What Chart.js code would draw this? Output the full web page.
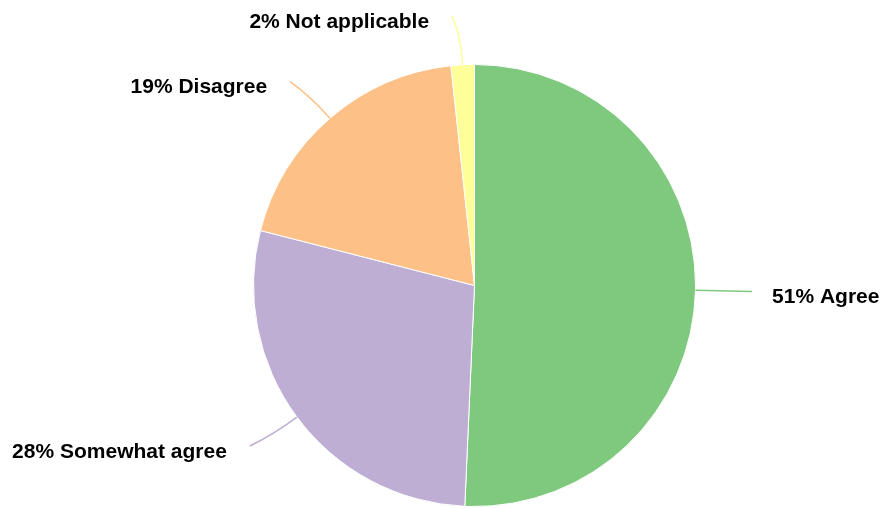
<!DOCTYPE html>
<html>
<head>
<meta charset="utf-8">
<script src="https://cdn.jsdelivr.net/npm/chart.js@4/dist/chart.umd.min.js"></script>
<style>
  html, body { margin: 0; padding: 0; background: #fff; }
  #wrap { width: 884px; height: 508px; }
</style>
</head>
<body>
<div id="wrap"><canvas id="pie"></canvas></div>
<script>
var labels = ["Agree", "Somewhat agree", "Disagree", "Not applicable"];
var values = [50.7, 28.3, 19.3, 1.7];
var colors = ["#7fc97f", "#beaed4", "#fdc086", "#ffff99"];

// leader lines + outside labels
var outLabels = {
  id: "outLabels",
  afterDatasetsDraw: function (chart) {
    var ctx = chart.ctx;
    var meta = chart.getDatasetMeta(0);
    var total = values.reduce(function (a, b) { return a + b; }, 0);
    ctx.save();
    ctx.font = "bold 21px 'Liberation Sans', Arial, sans-serif";
    ctx.textBaseline = "middle";
    meta.data.forEach(function (arc, i) {
      var p = arc.getProps(["x", "y", "startAngle", "endAngle", "outerRadius"], true);
      var mid = (p.startAngle + p.endAngle) / 2;
      var cx = Math.cos(mid), cy = Math.sin(mid);
      var r = p.outerRadius;
      var right = cx >= 0;
      var side = right ? 1 : -1;
      var sx = p.x + cx * r, sy = p.y + cy * r;
      var kx = p.x + cx * r * 1.13, ky = p.y + cy * r * 1.13;
      var ex = p.x + cx * r * 1.22 + side * 8, ey = p.y + cy * r * 1.22;
      ctx.strokeStyle = colors[i];
      ctx.lineWidth = 1.5;
      ctx.beginPath();
      ctx.moveTo(sx, sy);
      ctx.quadraticCurveTo(kx, ky, ex, ey);
      ctx.stroke();
      var pct = Math.round(values[i] / total * 100);
      ctx.fillStyle = "#000";
      ctx.textAlign = right ? "left" : "right";
      ctx.fillText(pct + "% " + labels[i], ex + side * (right ? 20 : 23), ey + 6);
    });
    ctx.restore();
  }
};

new Chart(document.getElementById("pie").getContext("2d"), {
  type: "pie",
  data: {
    labels: labels,
    datasets: [{
      data: values,
      backgroundColor: colors,
      borderColor: "#ffffff",
      borderWidth: 1
    }]
  },
  options: {
    responsive: true,
    maintainAspectRatio: false,
    animation: false,
    layout: {
      padding: { top: 64, bottom: 1, left: 253, right: 188 }
    },
    plugins: {
      legend: { display: false },
      tooltip: { enabled: false }
    }
  },
  plugins: [outLabels]
});
</script>
</body>
</html>
